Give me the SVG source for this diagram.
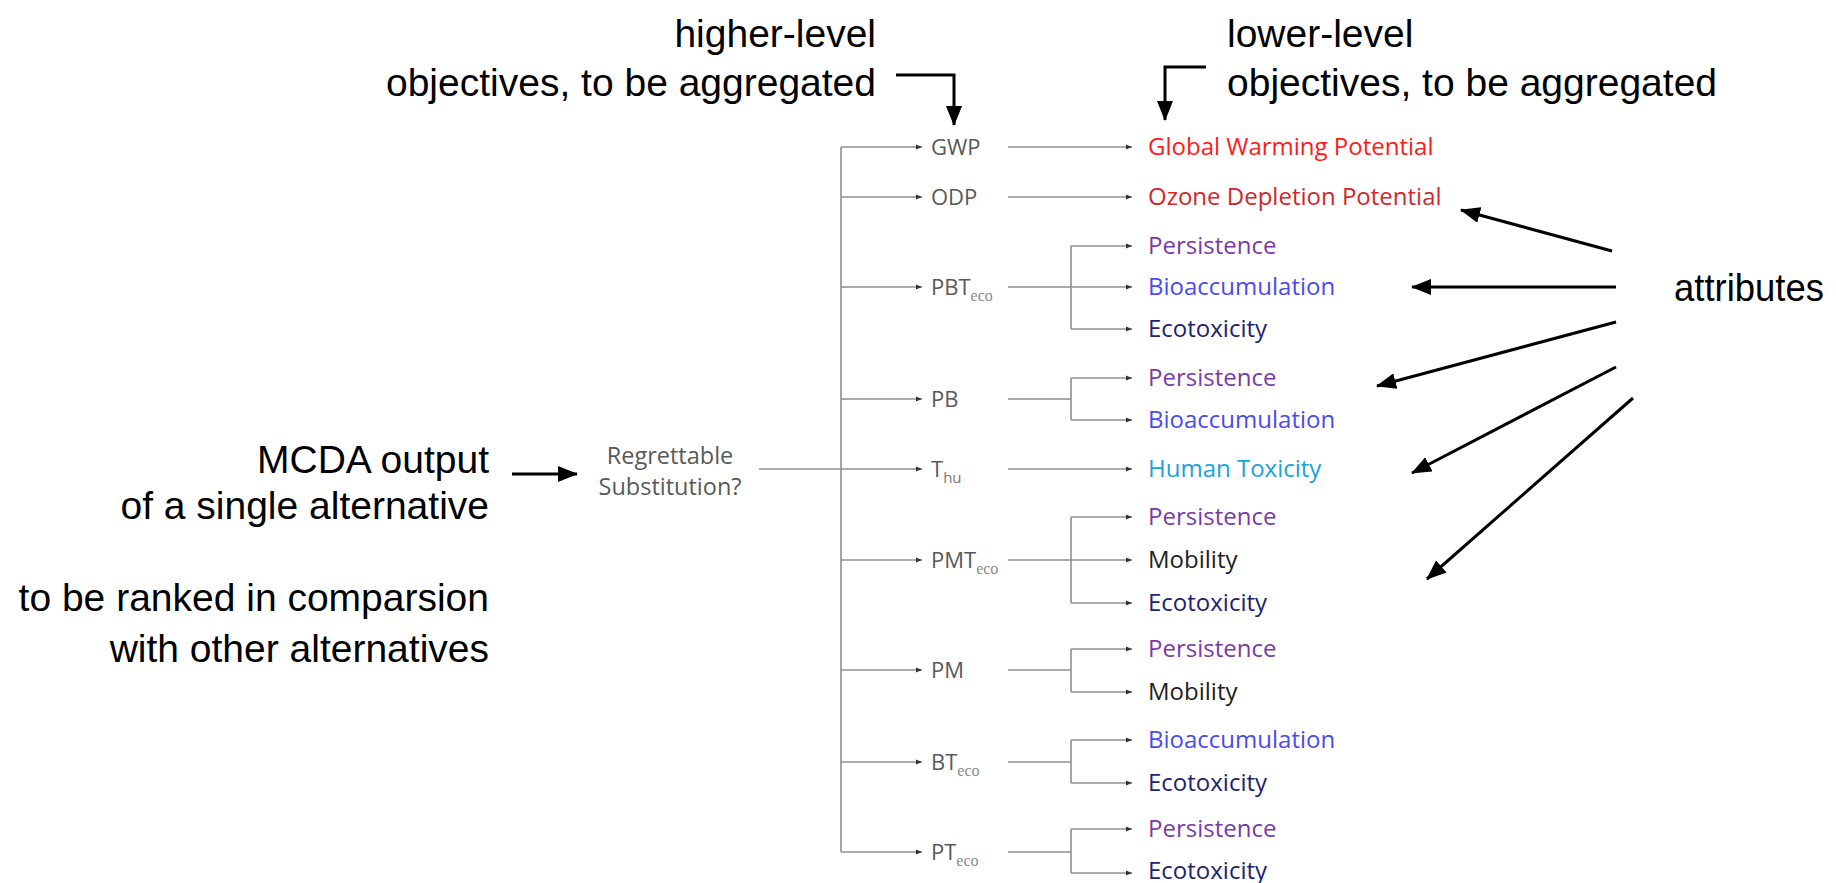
<svg xmlns="http://www.w3.org/2000/svg" width="1836" height="883" viewBox="0 0 1836 883">
<style>
.ann{font-family:"Liberation Sans",Arial,sans-serif;font-size:39px;fill:#000}
.lbl{font-family:"Open Sans",sans-serif;font-size:22px;fill:#595959}
.root{font-family:"Open Sans",sans-serif;font-size:23.5px;fill:#595959;text-anchor:middle}
.sub{font-family:"Liberation Serif",serif;font-size:16px;fill:#8a8a8a}
.subs{font-family:"Open Sans",sans-serif;font-size:15px;fill:#777}
.ch{font-family:"Open Sans",sans-serif;font-size:24px}
.gw{fill:#ff1a1a}.oz{fill:#d4262c}.pe{fill:#7a3aa8}.bi{fill:#4b4bf2}.ec{fill:#22226e}.hu{fill:#1aa3d8}.mo{fill:#222}
.tree path{fill:none;stroke:#8f8f8f;stroke-width:1.6}
.tree .a{marker-end:url(#sm)}
.big path{fill:none;stroke:#000;stroke-width:3;marker-end:url(#big)}
</style>
<defs>
<marker id="sm" viewBox="0 0 6 6" refX="6" refY="3" markerWidth="6" markerHeight="6" markerUnits="userSpaceOnUse" orient="auto"><path d="M0,0.6 L6,3 L0,5.4z" fill="#333"/></marker>
<marker id="big" viewBox="0 0 20 16" refX="19" refY="8" markerWidth="20" markerHeight="16" markerUnits="userSpaceOnUse" orient="auto"><path d="M0,0 L20,8 L0,16z" fill="#000"/></marker>
</defs>
<rect width="1836" height="883" fill="#fff"/>

<g id="connectors">
<g class="tree">
<path d="M759,469 H841"/>
<path d="M841,147 V852"/>
<path class="a" d="M841,147 H922"/>
<path class="a" d="M841,197 H922"/>
<path class="a" d="M841,287 H922"/>
<path class="a" d="M841,399 H922"/>
<path class="a" d="M841,469 H922"/>
<path class="a" d="M841,560 H922"/>
<path class="a" d="M841,670 H922"/>
<path class="a" d="M841,762 H922"/>
<path class="a" d="M841,852 H922"/>
<path class="a" d="M1008,147 H1132"/>
<path class="a" d="M1008,197 H1132"/>
<path class="a" d="M1008,469 H1132"/>
<path d="M1008,287 H1071 M1071,246 V329"/>
<path class="a" d="M1071,246 H1132"/><path class="a" d="M1071,287 H1132"/><path class="a" d="M1071,329 H1132"/>
<path d="M1008,399 H1071 M1071,378 V420"/>
<path class="a" d="M1071,378 H1132"/><path class="a" d="M1071,420 H1132"/>
<path d="M1008,560 H1071 M1071,517 V603"/>
<path class="a" d="M1071,517 H1132"/><path class="a" d="M1071,560 H1132"/><path class="a" d="M1071,603 H1132"/>
<path d="M1008,670 H1071 M1071,649 V692"/>
<path class="a" d="M1071,649 H1132"/><path class="a" d="M1071,692 H1132"/>
<path d="M1008,762 H1071 M1071,740 V783"/>
<path class="a" d="M1071,740 H1132"/><path class="a" d="M1071,783 H1132"/>
<path d="M1008,852 H1071 M1071,829 V873"/>
<path class="a" d="M1071,829 H1132"/><path class="a" d="M1071,873 H1132"/>
</g>
<g class="big">
<path d="M896,75 H954 V125"/>
<path d="M1206,67 H1165 V120"/>
<path d="M512,474 H577"/>
<path d="M1612,251 L1461,210"/>
<path d="M1616,287 L1412,287"/>
<path d="M1616,322 L1377,386"/>
<path d="M1616,367 L1412,473"/>
<path d="M1633,398 L1427,579"/>
</g>
</g>

<g id="ann-higher"><text class="ann" text-anchor="end" x="876" y="47">higher-level</text><text class="ann" text-anchor="end" x="876" y="96">objectives, to be aggregated</text></g>
<g id="ann-lower"><text class="ann" x="1227" y="47">lower-level</text><text class="ann" x="1227" y="96">objectives, to be aggregated</text></g>
<g id="ann-mcda"><text class="ann" text-anchor="end" x="489" y="473">MCDA output</text><text class="ann" text-anchor="end" x="489" y="519">of a single alternative</text><text class="ann" text-anchor="end" x="489" y="611">to be ranked in comparsion</text><text class="ann" text-anchor="end" x="489" y="662">with other alternatives</text></g>
<g id="ann-attributes"><text class="ann" x="1674" y="301" textLength="150" lengthAdjust="spacingAndGlyphs">attributes</text></g>

<g id="root"><text class="root" x="670" y="464">Regrettable</text><text class="root" x="670" y="495">Substitution?</text></g>

<g id="n-gwp"><text class="lbl" x="931" y="155">GWP</text></g>
<g id="n-odp"><text class="lbl" x="931" y="205">ODP</text></g>
<g id="n-pbt"><text class="lbl" x="931" y="295">PBT<tspan class="sub" dy="6">eco</tspan></text></g>
<g id="n-pb"><text class="lbl" x="931" y="407">PB</text></g>
<g id="n-thu"><text class="lbl" x="931" y="477">T<tspan class="subs" dy="6">hu</tspan></text></g>
<g id="n-pmt"><text class="lbl" x="931" y="568">PMT<tspan class="sub" dy="6">eco</tspan></text></g>
<g id="n-pm"><text class="lbl" x="931" y="678">PM</text></g>
<g id="n-bt"><text class="lbl" x="931" y="770">BT<tspan class="sub" dy="6">eco</tspan></text></g>
<g id="n-pt"><text class="lbl" x="931" y="860">PT<tspan class="sub" dy="6">eco</tspan></text></g>

<g id="c-gwp"><text class="ch gw" x="1148" y="155">Global Warming Potential</text></g>
<g id="c-odp"><text class="ch oz" x="1148" y="205">Ozone Depletion Potential</text></g>
<g id="c-pbt-p"><text class="ch pe" x="1148" y="254">Persistence</text></g>
<g id="c-pbt-b"><text class="ch bi" x="1148" y="295">Bioaccumulation</text></g>
<g id="c-pbt-e"><text class="ch ec" x="1148" y="337">Ecotoxicity</text></g>
<g id="c-pb-p"><text class="ch pe" x="1148" y="386">Persistence</text></g>
<g id="c-pb-b"><text class="ch bi" x="1148" y="428">Bioaccumulation</text></g>
<g id="c-thu"><text class="ch hu" x="1148" y="477">Human Toxicity</text></g>
<g id="c-pmt-p"><text class="ch pe" x="1148" y="525">Persistence</text></g>
<g id="c-pmt-m"><text class="ch mo" x="1148" y="568">Mobility</text></g>
<g id="c-pmt-e"><text class="ch ec" x="1148" y="611">Ecotoxicity</text></g>
<g id="c-pm-p"><text class="ch pe" x="1148" y="657">Persistence</text></g>
<g id="c-pm-m"><text class="ch mo" x="1148" y="700">Mobility</text></g>
<g id="c-bt-b"><text class="ch bi" x="1148" y="748">Bioaccumulation</text></g>
<g id="c-bt-e"><text class="ch ec" x="1148" y="791">Ecotoxicity</text></g>
<g id="c-pt-p"><text class="ch pe" x="1148" y="837">Persistence</text></g>
<g id="c-pt-e"><text class="ch ec" x="1148" y="879">Ecotoxicity</text></g>
</svg>
